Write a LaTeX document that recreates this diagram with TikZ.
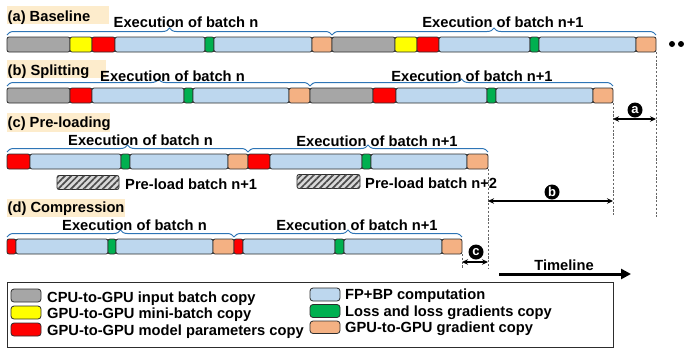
\documentclass[tikz,border=0pt]{standalone}
\usepackage{fontspec}
\setmainfont{Liberation Sans}
\usetikzlibrary{decorations.pathreplacing,arrows.meta,patterns.meta}

% palette
\definecolor{cpucopy}{RGB}{166,166,166}
\definecolor{minicopy}{RGB}{255,255,0}
\definecolor{paramcopy}{RGB}{255,0,0}
\definecolor{fpbp}{RGB}{189,215,238}
\definecolor{losscopy}{RGB}{0,176,80}
\definecolor{gradcopy}{RGB}{244,177,131}
\definecolor{bracecol}{RGB}{46,117,182}
\definecolor{tagbg}{RGB}{253,236,204}
\definecolor{outline}{RGB}{45,45,45}

% one row of coloured stages: #1 top, #2 bottom, #3 list of left/right/colour
\newcommand\stagerow[3]{%
  \foreach \xa/\xb/\cc in {#3}{\draw[segbox,fill=\cc] (\xa,#1) rectangle (\xb,#2);}}

\begin{document}
\begin{tikzpicture}[x=1pt,y=-1pt,
  every node/.style={font=\fontsize{14.7}{17}\selectfont\bfseries, inner sep=0pt},
  segbox/.style={draw=outline, line width=0.8pt, rounded corners=2pt},
  execbrace/.style={draw=bracecol, line width=1pt,
    decorate, decoration={brace, amplitude=7pt}},
  titlebox/.style={fill=tagbg, draw=none},
  guide/.style={draw=black!60, line width=0.7pt, dash pattern=on 2.2pt off 1.6pt},
  gap/.style={draw=black, line width=1.3pt, {Stealth[length=6pt,width=5.5pt]}-{Stealth[length=6pt,width=5.5pt]}},
  tag/.style={circle, fill=black, text=white, minimum size=15pt,
    font=\fontsize{13}{13}\selectfont\bfseries},
  hatchbox/.style={draw=outline, line width=0.8pt, rounded corners=2pt, fill=gray!30,
    postaction={pattern={Lines[angle=45,distance=4.5pt,line width=1.7pt]}, pattern color=black!70}},
  swatch/.style={draw=outline, line width=0.8pt, rounded corners=3pt},
]
\useasboundingbox (0,0) rectangle (684,349);

% ---------------- (a) Baseline ----------------
\fill[titlebox] (7,6) rectangle (109,24);
\node[anchor=base west] (ta) at (7.5,21.5) {(a) Baseline};
\stagerow{37}{52}{7/70/cpucopy,70/92/minicopy,92/115/paramcopy,115/205/fpbp,205/214/losscopy,214/312/fpbp,312/332/gradcopy,
  332/395/cpucopy,395/417/minicopy,417/439/paramcopy,439/530/fpbp,530/539/losscopy,539/636/fpbp,636/656/gradcopy}
\draw[execbrace] (7,35) -- (332,35);
\draw[execbrace] (332,35) -- (656,35);
\node[anchor=base] (an) at (186,27.7) {Execution of batch n};
\node[anchor=base] (an1) at (503,27.7) {Execution of batch n+1};
\fill (672,44) circle (3pt) (681,44) circle (3pt);

% ---------------- (b) Splitting ----------------
\fill[titlebox] (7,60) rectangle (106,78);
\node[anchor=base west] (tb) at (7.5,75.5) {(b) Splitting};
\stagerow{88}{103}{7/70/cpucopy,70/92/paramcopy,92/184/fpbp,184/193/losscopy,193/289/fpbp,289/310/gradcopy,
  310/373/cpucopy,373/396/paramcopy,396/487/fpbp,487/496/losscopy,496/593/fpbp,593/613/gradcopy}
\draw[execbrace] (7,86) -- (310,86);
\draw[execbrace] (310,86) -- (613,86);
\node[anchor=base] (bn) at (172.5,81.5) {Execution of batch n};
\node[anchor=base] (bn1) at (472,81) {Execution of batch n+1};

% ---------------- (c) Pre-loading ----------------
\fill[titlebox] (7,113) rectangle (110,132);
\node[anchor=base west] (tc) at (7.5,127) {(c) Pre-loading};
\stagerow{154}{169}{7/30/paramcopy,30/121/fpbp,121/130/losscopy,130/228/fpbp,228/248/gradcopy,
  248/270/paramcopy,270/362/fpbp,362/371/losscopy,371/467/fpbp,467/488/gradcopy}
\draw[execbrace] (7,152) -- (248,152);
\draw[execbrace] (248,152) -- (488,152);
\node[anchor=base] (cn) at (140.5,145.5) {Execution of batch n};
\node[anchor=base] (cn1) at (377,146) {Execution of batch n+1};
\draw[hatchbox] (57,175.5) rectangle (119,189.5);
\node[anchor=base west] (pl1) at (125,189) {Pre-load batch n+1};
\draw[hatchbox] (297,174.5) rectangle (360,188.5);
\node[anchor=base west] (pl2) at (365,188.3) {Pre-load batch n+2};

% ---------------- (d) Compression ----------------
\fill[titlebox] (7,199) rectangle (125,217);
\node[anchor=base west] (td) at (7.5,212) {(d) Compression};
\stagerow{239}{254}{7/16/paramcopy,16/108/fpbp,108/116/losscopy,116/213/fpbp,213/234/gradcopy,
  234/243/paramcopy,243/335/fpbp,335/344/losscopy,344/442/fpbp,442/462/gradcopy}
\draw[execbrace] (7,237) -- (234,237);
\draw[execbrace] (234,237) -- (462,237);
\node[anchor=base] (dn) at (134.5,230) {Execution of batch n};
\node[anchor=base] (dn1) at (357,230) {Execution of batch n+1};

% ---------------- end-of-run guides and gaps ----------------
\coordinate (endA) at (656,52);   \coordinate (endAlow) at (656,217);
\coordinate (endB) at (613,103);  \coordinate (endBlow) at (613,215);
\coordinate (endC) at (488,169);  \coordinate (endClow) at (488,268);
\coordinate (endD) at (462,254);  \coordinate (endDlow) at (462,269);
\draw[guide] (endA) -- (endAlow);
\draw[guide] (endB) -- (endBlow);
\draw[guide] (endC) -- (endClow);
\draw[guide] (endD) -- (endDlow);

\draw[gap] (endB |- 0,119) coordinate (ga1) -- (endA |- 0,119) coordinate (ga2);
\node[tag] (gapa) at (635,110) {a};
\draw[gap] (endC |- 0,201) coordinate (gb1) -- (endB |- 0,201) coordinate (gb2);
\node[tag] (gapb) at (552,192) {b};
\draw[gap] (endD |- 0,262) coordinate (gc1) -- (endC |- 0,262) coordinate (gc2);
\node[tag] (gapc) at (476,252) {c};

% ---------------- timeline ----------------
\coordinate (tl0) at (499,274);
\coordinate (tl1) at (631,274);
\draw[line width=3pt, -{Triangle[length=10pt,width=10pt]}] (tl0) -- (tl1);
\node[anchor=base] (tltext) at (564,270) {Timeline};

% ---------------- legend ----------------
\draw[draw=outline, line width=0.8pt] (7,282) rectangle (613,347);
\draw[swatch,fill=cpucopy]   (11,289) rectangle (41,302);
\draw[swatch,fill=minicopy]  (11,306) rectangle (41,319);
\draw[swatch,fill=paramcopy] (11,323) rectangle (41,336);
\node[anchor=base west] (l1) at (47,302.5) {CPU-to-GPU input batch copy};
\node[anchor=base west] (l2) at (47,318.5) {GPU-to-GPU mini-batch copy};
\node[anchor=base west] (l3) at (47,335) {GPU-to-GPU model parameters copy};
\draw[swatch,fill=fpbp]      (310,288) rectangle (340,301);
\draw[swatch,fill=losscopy]  (310,304.5) rectangle (340,317.5);
\draw[swatch,fill=gradcopy]  (310,321) rectangle (340,333.5);
\node[anchor=base west] (l4) at (345,299.5) {FP+BP computation};
\node[anchor=base west] (l5) at (345,316) {Loss and loss gradients copy};
\node[anchor=base west] (l6) at (345,332.5) {GPU-to-GPU gradient copy};
\end{tikzpicture}
\end{document}
